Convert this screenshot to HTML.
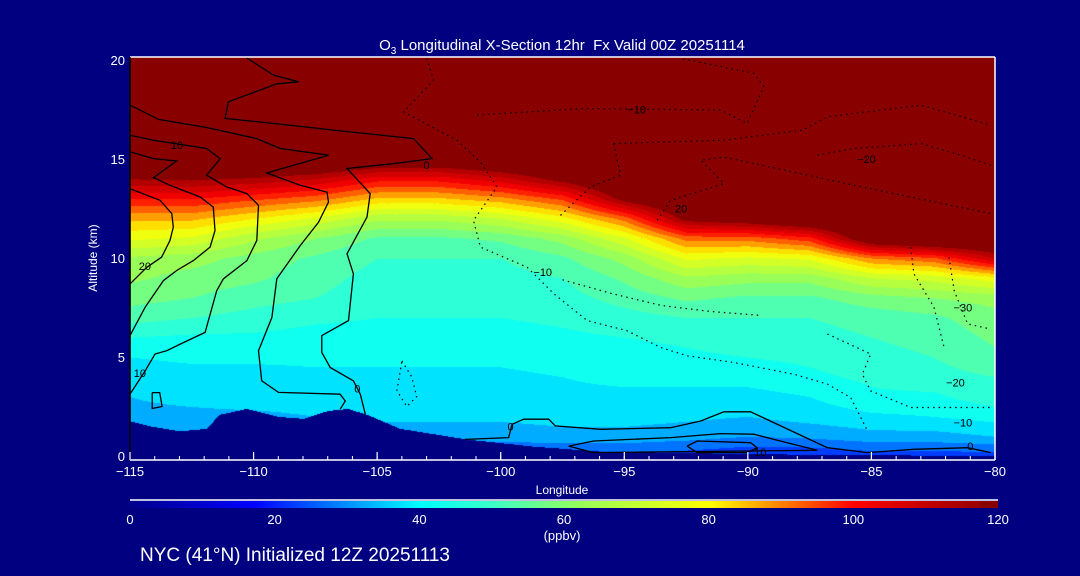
<!DOCTYPE html>
<html><head><meta charset="utf-8">
<style>
html,body{margin:0;padding:0;background:#000080;}
#wrap{position:relative;width:1080px;height:576px;overflow:hidden;background:#000080;font-family:"Liberation Sans",sans-serif;color:#fff;}
canvas{position:absolute;}
svg{position:absolute;left:0;top:0;}
svg text{font-family:"Liberation Sans",sans-serif;fill:#fff;}
</style></head>
<body>
<div id="wrap">
<canvas id="field" width="865" height="403" style="left:130px;top:57px"></canvas>
<canvas id="cbar" width="868" height="7" style="left:130px;top:501px"></canvas>
<svg id="ov" width="1080" height="576">
<text x="562" y="50" text-anchor="middle" font-size="15" xml:space="preserve">O<tspan font-size="10" dy="4">3</tspan><tspan dy="-4"> Longitudinal X-Section 12hr  Fx Valid 00Z 20251114</tspan></text>
<text x="97" y="258" text-anchor="middle" font-size="12" transform="rotate(-90 97 258)">Altitude (km)</text>
<text x="562" y="494" text-anchor="middle" font-size="12">Longitude</text>
<text x="562" y="540" text-anchor="middle" font-size="13">(ppbv)</text>
<text x="140" y="561" font-size="19">NYC (41°N) Initialized 12Z 20251113</text>
<line x1="130" y1="500" x2="998" y2="500" stroke="#fff" stroke-width="1.5"/>
</svg>
</div>
<script>
// ---- data ----
const lonGrid = [-115,-112.5,-110,-107.5,-105,-102.5,-100,-97.5,-95,-92.5,-90,-87.5,-85,-82.5,-80];
const altGrid = [0,1,2,3,4,5,6,7,8,9,10,11,12,13,14,15,16,17,18,19,20];
const o3_m115 = [30,32,34,35,37,40,45,52,57,61,64,76,86,100,115,130,130,130,130,130,130];
const o3_m112 = [30,32,34,36,38,41,44,50,55,58,62,74,86,100,116,130,130,130,130,130,130];
const o3_m110 = [30,32,34,37,38,41,44,48,52,56,58,66,80,96,114,130,130,130,130,130,130];
const o3_m107 = [30,32,35,37,39,41,43,46,50,52,54,60,74,92,110,130,130,130,130,130,130];
const o3_m105 = [28,32,36,38,39,41,43,45,47,48,50,54,66,84,102,125,130,130,130,130,130];
const o3_m102 = [28,32,36,38,39,41,43,45,47,48,50,54,66,84,102,124,130,130,130,130,130];
const o3_m100 = [24,32,36,38,39,41,43,45,46,48,50,56,70,88,108,128,130,130,130,130,130];
const o3_m097 = [24,33,37,39,40,42,44,46,48,50,54,62,78,96,118,130,130,130,130,130,130];
const o3_m095 = [24,33,37,39,41,43,45,48,52,56,62,74,92,118,130,130,130,130,130,130,130];
const o3_m092 = [22,32,36,38,42,44,46,50,56,64,76,92,118,130,130,130,130,130,130,130,130];
const o3_m090 = [20,30,35,38,42,45,48,50,54,62,74,92,122,130,130,130,130,130,130,130,130];
const o3_m087 = [20,31,37,40,44,46,48,50,54,62,76,98,128,130,130,130,130,130,130,130,130];
const o3_m085 = [22,33,39,44,46,48,50,52,58,70,90,125,130,130,130,130,130,130,130,130,130];
const o3_m082 = [22,33,40,44,48,50,52,54,60,72,94,130,130,130,130,130,130,130,130,130,130];
const o3_m080 = [22,35,42,48,50,54,56,58,62,78,110,130,130,130,130,130,130,130,130,130,130];
const o3Columns = [o3_m115,o3_m112,o3_m110,o3_m107,o3_m105,o3_m102,o3_m100,o3_m097,o3_m095,o3_m092,o3_m090,o3_m087,o3_m085,o3_m082,o3_m080];

const terrainLon = [-115,-114.1,-113,-111.9,-111.4,-110.3,-109,-108,-107,-106.2,-105.4,-104.1,-101.4,-98.7,-96,-90,-85,-80];
const terrainAlt = [1.77,1.5,1.27,1.4,2.1,2.4,2.0,1.9,2.3,2.4,2.1,1.4,0.86,0.5,0.25,0.12,0.06,0.03];

const xTicks = [-115,-110,-105,-100,-95,-90,-85,-80];
const xTickLabels = ["\u2212115","\u2212110","\u2212105","\u2212100","\u221295","\u221290","\u221285","\u221280"];
const yTicks = [0,5,10,15,20];
const yTickLabels = ["0","5","10","15","20"];
const cbTicks = [0,20,40,60,80,100,120];
const cbTickLabels = ["0","20","40","60","80","100","120"];

const contourSolid = [
 [[-110.27,20.1],[-109.2,19.24],[-108.18,18.9],[-109.06,18.8],[-111.02,17.89],[-111.15,17.05],[-109.2,16.8],[-106.77,16.46],[-103.53,16.03],[-102.78,15.02],[-104.33,14.77],[-106.22,14.52],[-105.28,13.25],[-105.41,12.07],[-106.22,10.21],[-105.96,9.2],[-106.16,6.84],[-107.24,6.08],[-107.24,5.23],[-106.9,4.47],[-105.96,3.8],[-105.68,3.12],[-105.48,2.11]],
 [[-115,17.72],[-113.85,17.0],[-111.9,16.59],[-109.87,16.03],[-108.92,15.53],[-106.97,15.19],[-109.46,14.3],[-108.11,13.67],[-107.03,13.33],[-106.97,12.83],[-107.37,11.81],[-108.11,10.63],[-109.06,8.95],[-109.26,7.0],[-109.8,5.32],[-109.67,3.8],[-108.99,3.21],[-106.5,3.12],[-106.29,2.78],[-106.5,2.36]],
 [[-115,16.2],[-114.05,15.95],[-111.9,15.53],[-111.35,15.02],[-111.9,14.18],[-111.09,13.59],[-110.27,13.25],[-109.8,12.66],[-109.87,10.89],[-110.27,9.87],[-111.22,8.95],[-111.49,8.35],[-111.96,6.24],[-112.97,5.65],[-113.51,5.32],[-113.99,5.15],[-114.39,4.3],[-115,3.12]],
 [[-115,15.36],[-114.05,15.02],[-113.11,14.9],[-114.05,14.06],[-113.38,13.67],[-112.16,13.08],[-111.63,12.57],[-111.56,11.39],[-111.76,10.55],[-112.44,9.87],[-113.11,9.37],[-113.65,8.86],[-114.39,7.51],[-115,6.08]],
 [[-115,13.5],[-113.78,12.91],[-113.31,12.24],[-113.25,11.56],[-113.38,10.89],[-113.72,10.04],[-114.32,9.53],[-115,8.69]],
 [[-114.1,3.2],[-113.8,3.2],[-113.7,2.5],[-114.1,2.4],[-114.1,3.2]],
 [[-101.43,0.84],[-99.68,0.93],[-99.54,1.6],[-99.07,1.86],[-98.06,1.86],[-97.79,1.52],[-95.96,1.35],[-93.13,1.43],[-91.91,1.77],[-90.97,2.23],[-89.89,2.23],[-86.78,0.42],[-85.16,0.17],[-83.28,0.34],[-81.11,0.42],[-80.17,0.17]],
 [[-97.25,0.5],[-96.24,0.76],[-93.13,0.93],[-91.11,1.13],[-89.76,1.1],[-88.41,0.67],[-87.19,0.29],[-96.24,0.17],[-97.25,0.5]],
 [[-92.46,0.5],[-92.05,0.76],[-89.89,0.67],[-89.62,0.42],[-90.03,0.17],[-92.05,0.17],[-92.46,0.5]],
 [[-115,20],[-115,1.8]]
];
const contourDotted = [
 [[-100.96,17.22],[-96.64,17.55],[-91.1,17.47],[-90.03,16.8],[-89.35,18.65],[-89.76,19.33],[-92.72,20.08]],
 [[-102.99,20.08],[-102.72,18.99],[-103.93,17.38],[-101.77,15.95],[-100.82,14.85],[-100.15,13.59],[-101.1,11.9],[-100.82,10.55],[-98.93,9.53],[-97.85,8.19],[-96.5,6.84],[-94.89,6.33],[-93.53,5.48],[-92.45,5.06],[-90.57,4.72],[-88.14,4.13],[-86.78,3.63],[-85.84,2.95],[-85.16,1.27]],
 [[-86.78,6.16],[-85.03,5.15],[-85.37,4.13],[-85.03,3.29],[-83.41,2.45],[-80.17,2.45]],
 [[-81.86,10.04],[-81.65,8.35],[-81.11,6.67],[-80.17,6.41]],
 [[-83.41,10.55],[-83.28,9.2],[-82.47,7.51],[-82.06,5.48]],
 [[-87.19,15.19],[-85.7,15.53],[-83.0,15.78],[-81.38,15.19],[-80.17,14.68]],
 [[-95.43,15.78],[-90.97,15.95],[-87.77,16.46],[-86.78,17.13],[-83.0,17.72],[-80.17,16.71]],
 [[-97.58,12.15],[-96.37,13.59],[-95.15,14.18],[-95.43,15.78]],
 [[-93.67,11.9],[-93.13,12.91],[-90.97,13.76],[-91.91,14.94],[-90.97,15.1],[-85.7,13.67],[-80.17,12.24]],
 [[-104.0,4.8],[-103.6,4.0],[-103.4,3.0],[-103.8,2.5],[-104.2,3.3],[-104.0,4.8]],
 [[-97.5,8.9],[-95.5,8.2],[-93.5,7.6],[-91.5,7.3],[-89.5,7.1]]
];
const contourLabelText = ["10","0","20","10","0","0","\u221210","\u221210","20","\u221220","\u221230","\u221220","\u221210","0","10"];
const contourLabelLon = [-113.1,-103.0,-114.4,-114.6,-105.8,-99.6,-94.5,-98.3,-92.7,-85.2,-81.3,-81.6,-81.3,-81.0,-89.5];
const contourLabelAlt = [15.7,14.7,9.6,4.2,3.4,1.5,17.5,9.3,12.5,15.0,7.5,3.7,1.7,0.5,0.2];

// ---- scales ----
const X0=130, X1=995, YB=456, KM=19.8;
function xs(lon){return X0+(lon+115)/35*(X1-X0);}
function ys(alt){return YB-alt*KM;}
const stops=[[0,[0,0,140]],[17,[0,0,255]],[40,[0,255,255]],[50,[60,255,200]],[62,[150,255,90]],[80,[255,255,0]],[100,[255,0,0]],[120,[136,0,0]]];
function cmap(v){
 if(v>=117.5) return [136,0,0];
 if(v<=0) return stops[0][1];
 for(let i=1;i<stops.length;i++){ if(v<=stops[i][0]){const a=stops[i-1],b=stops[i];const t=(v-a[0])/(b[0]-a[0]);return [0,1,2].map(k=>Math.round(a[1][k]+(b[1][k]-a[1][k])*t));}}
 return [136,0,0];
}
function field(lon,alt){
 let fi=(lon-lonGrid[0])/2.5; fi=Math.max(0,Math.min(lonGrid.length-1.0001,fi));
 let fj=Math.max(0,Math.min(altGrid.length-1.0001,alt));
 const i=Math.floor(fi),j=Math.floor(fj),u=fi-i,w=fj-j;
 const a=o3Columns[i][j],b=o3Columns[i+1][j],c=o3Columns[i][j+1],d=o3Columns[i+1][j+1];
 return a*(1-u)*(1-w)+b*u*(1-w)+c*(1-u)*w+d*u*w;
}
function terrain(lon){
 for(let i=1;i<terrainLon.length;i++){ if(lon<=terrainLon[i]){const t=(lon-terrainLon[i-1])/(terrainLon[i]-terrainLon[i-1]);return terrainAlt[i-1]+(terrainAlt[i]-terrainAlt[i-1])*t;}}
 return terrainAlt[terrainAlt.length-1];
}
// ---- field ----
const fc=document.getElementById('field').getContext('2d');
const W=865,H=403;
const img=fc.createImageData(W,H);
for(let py=0;py<H;py++){
 const alt=(YB-(py+57))/KM;
 for(let px=0;px<W;px++){
  const lon=-115+px/(X1-X0)*35;
  let col;
  if(alt<terrain(lon)) col=[0,0,128];
  else {const v=field(lon,alt);col=cmap(Math.floor(v/5)*5+2.5);}
  const o=(py*W+px)*4;img.data[o]=col[0];img.data[o+1]=col[1];img.data[o+2]=col[2];img.data[o+3]=255;
 }
}
fc.putImageData(img,0,0);
// ---- colorbar ----
const cc=document.getElementById('cbar').getContext('2d');
for(let px=0;px<868;px++){const c=cmap(px/868*120*0.999);cc.fillStyle='rgb('+c.join(',')+')';cc.fillRect(px,0,1,7);}
// ---- overlay ----
const NS='http://www.w3.org/2000/svg';
const ov=document.getElementById('ov');
function mk(tag,attrs){const e=document.createElementNS(NS,tag);for(const k in attrs)e.setAttribute(k,attrs[k]);ov.appendChild(e);return e;}
contourSolid.forEach(function(line){
 const e=mk('polyline',{points:line.map(p=>xs(p[0]).toFixed(1)+','+ys(p[1]).toFixed(1)).join(' '),fill:'none',stroke:'#000','stroke-width':'1.3'});
 
 
});
contourDotted.forEach(function(line){
 const e=mk('polyline',{points:line.map(p=>xs(p[0]).toFixed(1)+','+ys(p[1]).toFixed(1)).join(' '),fill:'none',stroke:'#000','stroke-width':'1.2','stroke-dasharray':'1.5 4'});
 
 
});
contourLabelText.forEach(function(t,i){
 const e=mk('text',{x:xs(contourLabelLon[i]),y:ys(contourLabelAlt[i])+4,'font-size':'11','text-anchor':'middle',style:'fill:#000'});
 e.textContent=t;
 
 
});
// frame
[[130,57,995,57],[130,460,995,460],[995,57,995,460],[130,57,130,460]].forEach(function(s,i){
 const e=mk('line',{x1:s[0],y1:s[1],x2:s[2],y2:s[3],stroke:i==3?'#000':'#fff','stroke-width':'1.5'});
 
 
});
for(let l=-114;l<-80;l++){
 const e=mk('line',{x1:xs(l),y1:460,x2:xs(l),y2:456,stroke:'#fff','stroke-width':'1'});
 
 
}
xTicks.forEach(function(v,i){
 const t=mk('line',{x1:xs(v),y1:460,x2:xs(v),y2:452,stroke:'#fff','stroke-width':'1.2'});
 
 
 const e=mk('text',{x:xs(v),y:476,'text-anchor':'middle','font-size':'13'});
 e.textContent=xTickLabels[i];
 
 
});
yTicks.forEach(function(v,i){
 const e=mk('text',{x:125,y:ys(v)+5,'text-anchor':'end','font-size':'13'});
 e.textContent=yTickLabels[i];
 
 
});
cbTicks.forEach(function(v,i){
 const e=mk('text',{x:130+v/120*868,y:524,'text-anchor':'middle','font-size':'13'});
 e.textContent=cbTickLabels[i];
 
 
});
</script>
</body></html>
